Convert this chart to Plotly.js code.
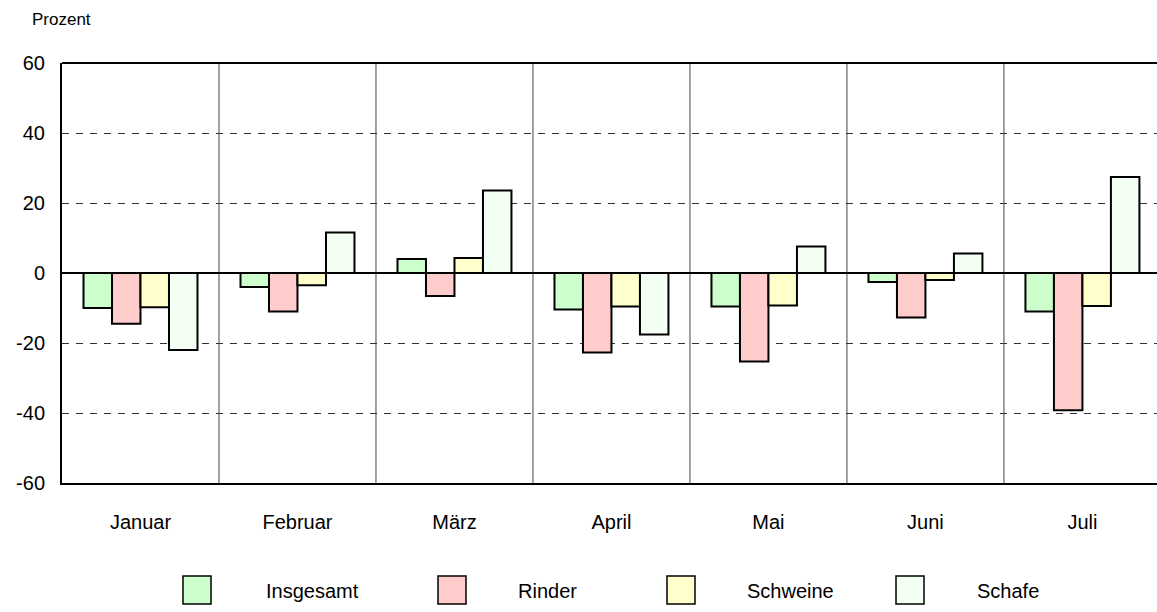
<!DOCTYPE html>
<html>
<head>
<meta charset="utf-8">
<script src="https://cdn.plot.ly/plotly-3.0.1.min.js"></script>
<style>html,body{margin:0;padding:0;background:#fff;}#chart{width:1157px;height:612px;}</style>
</head>
<body>
<div id="chart"></div>
<script>
const months = ["Januar", "Februar", "März", "April", "Mai", "Juni", "Juli"];
const seriesNames = ["Insgesamt", "Rinder", "Schweine", "Schafe"];
const insgesamt = [-10.0, -4.0, 4.0, -10.4, -9.6, -2.6, -11.0];
const rinder = [-14.5, -11.0, -6.6, -22.7, -25.3, -12.7, -39.2];
const schweine = [-9.8, -3.5, 4.3, -9.6, -9.3, -2.0, -9.4];
const schafe = [-22.0, 11.6, 23.6, -17.6, 7.6, 5.6, 27.4];
const yTicks = [-60, -40, -20, 0, 20, 40, 60];

const values = [insgesamt, rinder, schweine, schafe];
const colors = ["#ccffcc", "#ffcccc", "#ffffcc", "#f4fff4"];
const FONT = "Liberation Sans, Arial, sans-serif";

const traces = seriesNames.map((name, i) => ({
  type: "bar",
  name: name,
  x: months,
  y: values[i],
  marker: { color: colors[i], line: { color: "#000", width: 2 } },
  showlegend: false,
  hoverinfo: "x+y+name"
}));

const shapes = [];
for (let k = 0; k < months.length; k++) {
  shapes.push({ type: "line", xref: "x", yref: "paper", x0: k + 0.5, x1: k + 0.5, y0: 0, y1: 1,
    line: { color: "#444", width: 1 }, layer: "below" });
}
shapes.push({ type: "line", xref: "paper", yref: "paper", x0: 0, x1: 1, y0: 1, y1: 1, line: { color: "#000", width: 2 } });

const plotLeft = 62, plotW = 1157 - 62, plotTop = 63, plotH = 483 - 63;
function px2paperX(p) { return (p - plotLeft) / plotW; }
function py2paperY(p) { return (plotTop + plotH - p) / plotH; }

const annotations = [{
  text: "Prozent", xref: "paper", yref: "paper", x: px2paperX(30), y: py2paperY(20),
  xanchor: "left", yanchor: "middle", showarrow: false, font: { family: FONT, size: 17, color: "#000" }
}];
const legBoxX = [183, 438, 667, 896];
const legTextX = [264, 516, 745, 975];
seriesNames.forEach((name, i) => {
  shapes.push({ type: "rect", xref: "paper", yref: "paper",
    x0: px2paperX(legBoxX[i]), x1: px2paperX(legBoxX[i] + 28),
    y0: py2paperY(604), y1: py2paperY(576),
    fillcolor: colors[i], line: { color: "#000", width: 1.5 } });
  annotations.push({ text: name, xref: "paper", yref: "paper",
    x: px2paperX(legTextX[i]), y: py2paperY(591), xanchor: "left", yanchor: "middle",
    showarrow: false, font: { family: FONT, size: 20, color: "#000" } });
});

const layout = {
  width: 1157, height: 612,
  margin: { l: 62, r: 0, t: 63, b: 129, pad: 0 },
  paper_bgcolor: "#fff", plot_bgcolor: "#fff",
  barmode: "group", bargap: 0.274, bargroupgap: 0,
  showlegend: false,
  font: { family: FONT, size: 20, color: "#000" },
  xaxis: {
    type: "category", range: [-0.5, 6.475],
    showgrid: false, zeroline: false,
    showline: true, linecolor: "#000", linewidth: 2,
    ticks: "", ticklabelstandoff: 20,
    tickfont: { family: FONT, size: 20, color: "#000" }
  },
  yaxis: {
    range: [-60, 60], tickvals: yTicks, ticktext: yTicks.map(String),
    showgrid: true, gridcolor: "#333", gridwidth: 1, griddash: "7px,7px",
    zeroline: true, zerolinecolor: "#000", zerolinewidth: 2,
    showline: true, linecolor: "#000", linewidth: 2,
    ticks: "", ticklabelstandoff: 11,
    tickfont: { family: FONT, size: 20, color: "#000" }
  },
  shapes: shapes,
  annotations: annotations
};

Plotly.newPlot("chart", traces, layout, { displayModeBar: false, staticPlot: true });
</script>
</body>
</html>
